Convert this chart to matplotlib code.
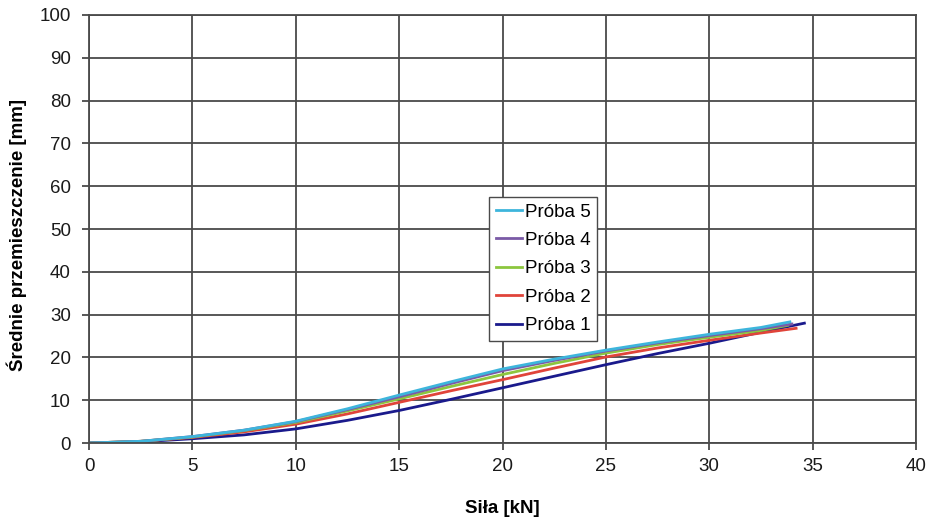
import matplotlib.pyplot as plt

plt.rcParams['font.family'] = ['Liberation Sans', 'DejaVu Sans']

# Force [kN] sample points
force = [0, 2.5, 5, 7.5, 10, 12.5, 15, 17.5, 20, 22.5, 25, 27.5, 30, 32.5]

# Mean displacement [mm] per sample
proba_1 = [0, 0.3, 1.0, 1.9, 3.3, 5.3, 7.6, 10.2, 12.9, 15.6, 18.3, 20.9, 23.3, 25.9]
proba_2 = [0, 0.4, 1.3, 2.6, 4.4, 6.8, 9.5, 12.2, 14.8, 17.5, 20.1, 22.2, 24.0, 25.7]
proba_3 = [0, 0.4, 1.4, 2.9, 4.8, 7.5, 10.3, 13.2, 16.0, 18.6, 21.0, 23.0, 24.7, 26.3]
proba_4 = [0, 0.4, 1.5, 3.0, 5.0, 7.8, 10.8, 13.9, 16.9, 19.3, 21.5, 23.4, 25.1, 26.7]
proba_5 = [0, 0.4, 1.5, 3.0, 5.1, 8.0, 11.2, 14.3, 17.3, 19.6, 21.7, 23.6, 25.4, 27.0]

# end points (last reading of each test)
end_force = [34.6, 34.2, 33.8, 34.0, 33.9]
end_disp = [28.0, 26.8, 27.5, 27.8, 28.3]

labels = ["Próba 1", "Próba 2", "Próba 3", "Próba 4", "Próba 5"]
colors = ["#1a1a8c", "#e0443a", "#8cc63e", "#7a5aa6", "#3db5dc"]

fig = plt.figure(figsize=(9.33, 5.22), dpi=100)
ax = fig.add_axes([0.0954, 0.1513, 0.8864, 0.82])

series = [proba_1, proba_2, proba_3, proba_4, proba_5]
handles = []
for i, s in enumerate(series):
    x = force + [end_force[i]]
    y = s + [end_disp[i]]
    h, = ax.plot(x, y, color=colors[i], lw=2.0, label=labels[i])
    handles.append(h)

ax.set_xlim(0, 40)
ax.set_ylim(0, 100)
ax.set_xticks(range(0, 45, 5))
ax.set_yticks(range(0, 110, 10))
ax.grid(True, color="#4a4a4a", lw=1.3)
for sp in ax.spines.values():
    sp.set_color("#4a4a4a")
    sp.set_linewidth(1.3)
ax.tick_params(axis='both', colors="#4a4a4a", width=1.3, length=5, labelsize=13.5,
               labelcolor="#1a1a1a")
ax.tick_params(axis='x', pad=6)
ax.tick_params(axis='y', pad=8)

ax.set_xlabel("Siła [kN]", fontsize=13.5, fontweight="bold", va="center")
ax.set_ylabel("Średnie przemieszczenie [mm]", fontsize=13.5, fontweight="bold",
              va="center", ha="center")
ax.xaxis.set_label_coords(0.5, -0.154)
ax.yaxis.set_label_coords(-0.087, 0.486)

leg = ax.legend(handles[::-1], labels[::-1], loc="upper left",
                bbox_to_anchor=(0.4837, 0.575), fontsize=13.5, handlelength=1.4,
                handletextpad=0.15, borderpad=0.35, labelspacing=0.6,
                borderaxespad=0, fancybox=False, framealpha=1, edgecolor="#4a4a4a")
leg.get_frame().set_linewidth(1.0)

fig.savefig("out.png", dpi=100)
